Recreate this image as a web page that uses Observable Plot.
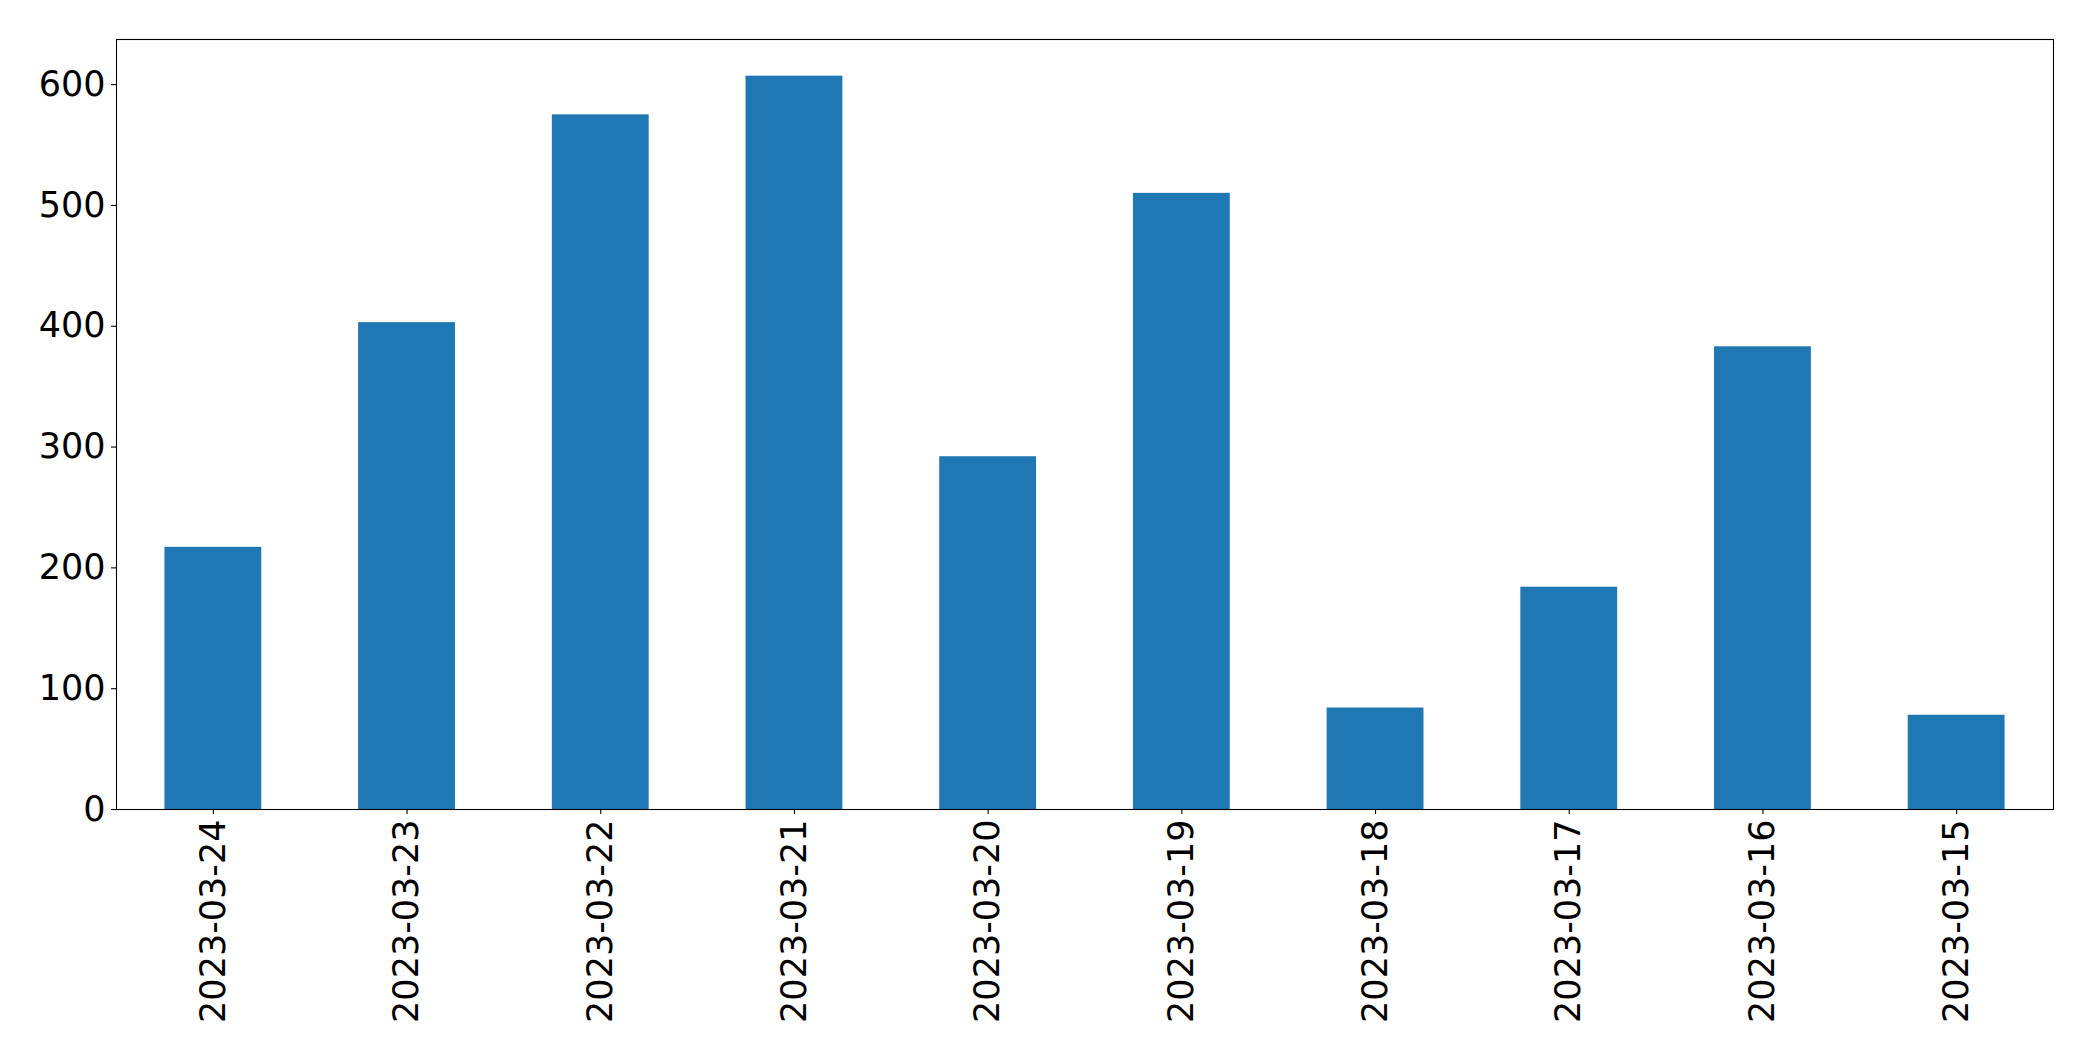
<!DOCTYPE html>
<html>
<head>
<meta charset="utf-8">
<script src="https://cdn.jsdelivr.net/npm/d3@7"></script>
<script src="https://cdn.jsdelivr.net/npm/@observablehq/plot@0.6"></script>
<style>
  html, body { margin: 0; padding: 0; background: #ffffff; }
  #chart svg { display: block; }
</style>
</head>
<body>
<div id="chart"></div>
<script>
const dates = ["2023-03-24", "2023-03-23", "2023-03-22", "2023-03-21", "2023-03-20",
               "2023-03-19", "2023-03-18", "2023-03-17", "2023-03-16", "2023-03-15"];
const counts = [217, 403, 575, 607, 292, 510, 84, 184, 383, 78];
const yTicks = [0, 100, 200, 300, 400, 500, 600];

const data = dates.map((d, i) => ({date: d, count: counts[i]}));

const chart = Plot.plot({
  width: 2093,
  height: 1061,
  marginLeft: 116,
  marginRight: 40,
  marginTop: 39,
  marginBottom: 252,
  style: {fontFamily: "DejaVu Sans", fontSize: "35px", color: "#000000", background: "#ffffff"},
  x: {domain: dates, paddingInner: 0.5, paddingOuter: 0.25, round: false, label: null},
  y: {domain: [0, 637.35], label: null},
  marks: [
    Plot.barY(data, {x: "date", y: "count", fill: "#1f77b4"}),
    Plot.axisY({ticks: yTicks, tickSize: 5, tickPadding: 6, strokeWidth: 1.1, fontSize: 35, label: null}),
    Plot.axisX({tickSize: 5, tickPadding: 5, tickRotate: -90, strokeWidth: 1.1, fontSize: 35, label: null}),
    Plot.frame({stroke: "#000000", strokeWidth: 1.1})
  ]
});

document.getElementById("chart").appendChild(chart);
</script>
</body>
</html>
